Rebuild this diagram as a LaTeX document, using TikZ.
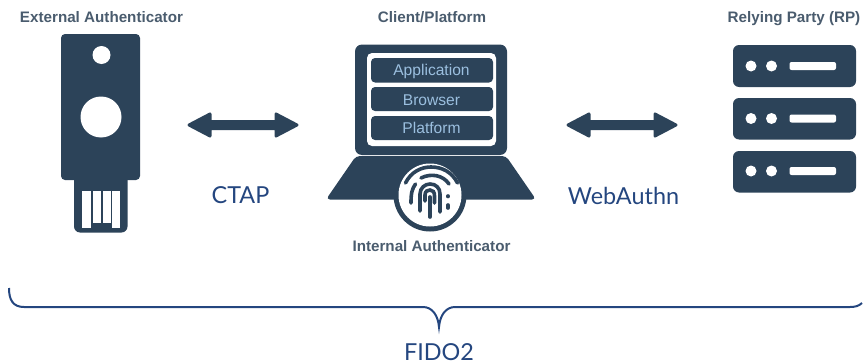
\documentclass[tikz,border=0pt]{standalone}
\usepackage{fontspec}
\setmainfont{Liberation Sans}
\newfontfamily\latof{Lato}
\definecolor{navy}{HTML}{2C4359}
\definecolor{capt}{HTML}{4A5C6E}
\definecolor{blu}{HTML}{24467F}
\definecolor{rowtxt}{HTML}{9BBFDF}
\tikzset{
  heading/.style={text=capt,font=\bfseries\fontsize{15.2}{17}\selectfont,inner sep=0pt,anchor=base},
  proto/.style={text=blu,font=\latof\fontsize{23.4}{26}\selectfont,inner sep=0pt},
  rowbox/.style={fill=navy,rounded corners=4pt},
  rowlabel/.style={text=rowtxt,font=\fontsize{15.6}{18}\selectfont,inner sep=0pt},
  server/.style={fill=navy,rounded corners=6pt},
  ridge/.style={draw=navy,line width=3.6pt,line cap=round},
  dblarrow/.style={fill=navy,draw=navy,line width=3pt,line join=round},
}
\begin{document}
\begin{tikzpicture}[x=1pt,y=-1pt]
\useasboundingbox (0,0) rectangle (863,364);
% headings
\node[heading] (hext) at (101.5,22) {External Authenticator};
\node[heading] (hcli) at (432,22) {Client/Platform};
\node[heading] (hrp) at (794,22) {Relying Party (RP)};
\node[heading] (hint) at (431.5,251) {Internal Authenticator};
% security key
\fill[navy,rounded corners=4pt] (61,34) rectangle (140,180);
\fill[navy,rounded corners=6pt] (74,170) rectangle (127.5,232.5);
\fill[white] (101.5,55) circle (9);
\fill[white] (101,117) circle (20.5);
\fill[white] (82,191) rectangle (91,227.5);
\fill[white] (93,191) rectangle (101,223);
\fill[white] (103,191) rectangle (110.5,223);
\fill[white] (112,191) rectangle (120,227.5);
% arrows
\coordinate (l1) at (189,125);
\coordinate (l2) at (297,125);
\coordinate (r1) at (568,125);
\coordinate (r2) at (676,125);
\path[dblarrow] (l1) -- ++(21,-11) -- ++(0,7.5) -- ++(66,0) -- ++(0,-7.5) -- (l2) -- ++(-21,11) -- ++(0,-7.5) -- ++(-66,0) -- ++(0,7.5) -- cycle;
\path[dblarrow] (r1) -- ++(21,-11) -- ++(0,7.5) -- ++(66,0) -- ++(0,-7.5) -- (r2) -- ++(-21,11) -- ++(0,-7.5) -- ++(-66,0) -- ++(0,7.5) -- cycle;
% laptop
\fill[navy,rounded corners=7pt] (355,44.5) rectangle (507,155);
\fill[white,rounded corners=5pt] (367,53) rectangle (496,146);
\fill[rowbox] (371,58) rectangle (493,82.5);
\fill[rowbox] (371,87) rectangle (493,111);
\fill[rowbox] (371,116) rectangle (493,140);
\node[rowlabel] (ta) at (431.5,71) {Application};
\node[rowlabel] (tb) at (431.5,100) {Browser};
\node[rowlabel] (tc) at (431.5,128) {Platform};
\fill[navy,rounded corners=4pt] (356,156) -- (506,156) -- (536,199.5) -- (326,199.5) -- cycle;
\fill[navy] (430,195) circle (36.5);
\fill[white] (430,195) circle (31.5);
% fingerprint
\draw[ridge] (405.5,183) .. controls (411,172) and (421,167) .. (431,167) .. controls (442,167) and (452,172) .. (457.5,183);
\draw[ridge] (421,178) .. controls (431,173) and (443,175) .. (449,184);
\draw[ridge] (415.5,184) .. controls (412,189) and (411,193) .. (411,203);
\draw[ridge] (420,211) -- (420,194) .. controls (420,188) and (425,184) .. (430,184) .. controls (436,184) and (440,188) .. (440,194) -- (440,212);
\draw[ridge] (425,201) -- (425,195) .. controls (425,191) and (428,190) .. (430,190) .. controls (433,190) and (434.5,192) .. (434.5,196) -- (434.5,203);
\draw[ridge] (430,197) -- (430,217);
\draw[ridge] (448,196) -- (448,196.5);
\draw[ridge] (448,205) -- (448,208);
% servers
\fill[server] (733,45) rectangle (856,87);
\fill[server] (733,98) rectangle (856,139.5);
\fill[server] (733,151) rectangle (856,192.5);
\foreach \y in {66,118.5,171}{
  \fill[white] (751,\y) circle (5.5);
  \fill[white] (771.5,\y) circle (5.5);
  \fill[white,rounded corners=2pt] (789.5,\y-4) rectangle (836,\y+4);
}
% protocol labels
\node[proto] (ctap) at (240.5,195.5) {CTAP};
\node[proto] (wa) at (623.5,195.5) {WebAuthn};
\node[proto] (fido) at (439,352) {FIDO2};
% brace
\draw[blu,line width=2pt] (9,288) .. controls (9,300) and (13,307) .. (24,307) -- (423,307) .. controls (432,307) and (438,315) .. (439,327) .. controls (440,315) and (446,307) .. (455,307) -- (850,307) .. controls (855,307) and (859,306) .. (862,303);
\end{tikzpicture}
\end{document}
